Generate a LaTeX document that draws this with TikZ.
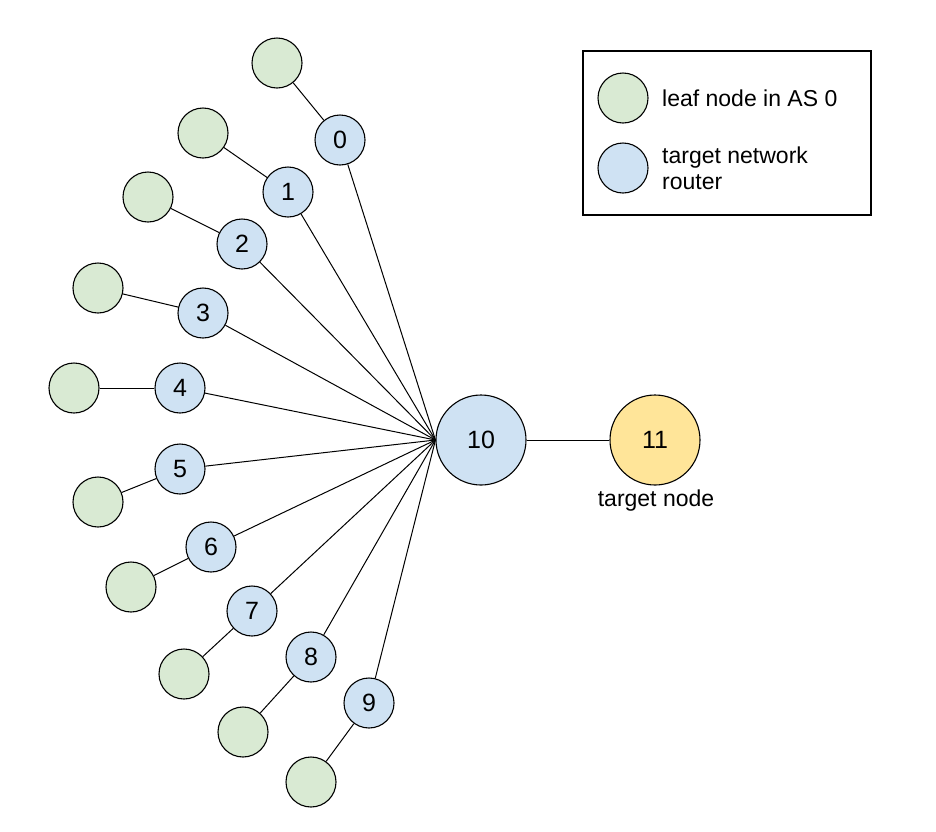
\documentclass[tikz,border=0pt]{standalone}
\usepackage{fontspec}
\setmainfont{Liberation Sans}
\definecolor{leafgreen}{HTML}{D9EAD3}
\definecolor{routerblue}{HTML}{CFE2F3}
\definecolor{targetyellow}{HTML}{FFE599}
\begin{document}
\begin{tikzpicture}[x=1pt,y=-1pt,
  every node/.style={font=\fontsize{23}{27}\selectfont},
  leaf/.style={circle,draw=black,line width=1.1pt,fill=leafgreen,minimum size=50pt,inner sep=0pt},
  router/.style={circle,draw=black,line width=1.1pt,fill=routerblue,minimum size=50pt,inner sep=0pt,font=\fontsize{25}{28}\selectfont},
  hub/.style={circle,draw=black,line width=1.1pt,fill=routerblue,minimum size=90pt,inner sep=0pt,font=\fontsize{25}{28}\selectfont},
  target/.style={circle,draw=black,line width=1.1pt,fill=targetyellow,minimum size=90pt,inner sep=0pt,font=\fontsize{25}{28}\selectfont},
  link/.style={draw=black,line width=1pt},
  label/.style={inner sep=0pt,align=left,anchor=west}]
\useasboundingbox[fill=white] (0,0) rectangle (936,831);
% nodes
\node[hub] (n10) at (481,440) {10};
\node[target] (n11) at (655,440) {11};
\foreach \i/\rx/\ry/\lx/\ly in {0/340/140/277/63, 1/288/192/203/133, 2/242/244/148/197,
  3/203/313/98/288, 4/180/388/74/388, 5/180/469/98/502, 6/211/547/131/587,
  7/252/611/184/674, 8/311/657/243/732, 9/369/703/311/782}{
  \node[leaf] (leaf\i) at (\lx,\ly) {};
  \node[router] (router\i) at (\rx,\ry) {\i};
  \draw[link] (leaf\i) -- (router\i);
  \draw[link] (router\i) -- (n10.west);
}
\draw[link] (n10) -- (n11);
\node[inner sep=0pt] (tlabel) at (656,501) {target node};
% legend
\node[draw=black,line width=1.1pt,minimum width=288pt,minimum height=164pt,inner sep=0pt] (legend) at (727,133) {};
\node[leaf] (legleaf) at (623,98) {};
\node[router] (legrouter) at (623,168) {};
\node[label] (legleaftext) at (662,98) {leaf node in AS 0};
\node[label,font=\fontsize{23}{26}\selectfont] (legroutertext) at (662,168) {target network\\router};
\end{tikzpicture}
\end{document}
